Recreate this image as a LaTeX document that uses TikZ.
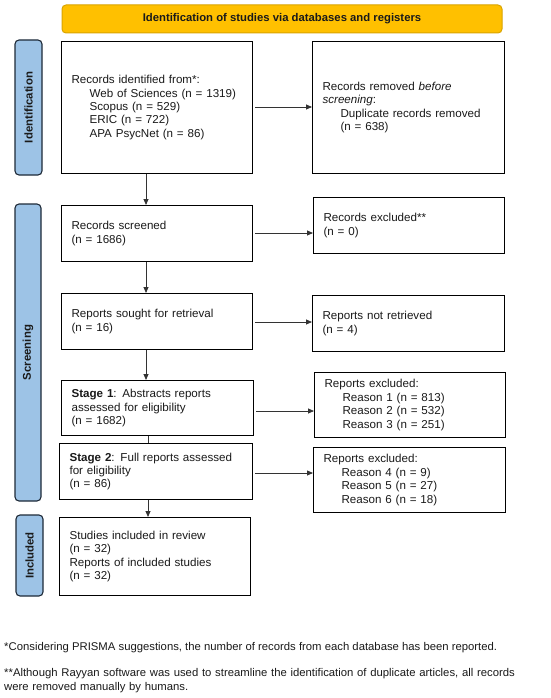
\documentclass[tikz,border=0pt]{standalone}
\usepackage{fontspec}
\setmainfont[FakeStretch=1.01]{Liberation Sans}
\usetikzlibrary{arrows.meta,positioning}
\definecolor{ybar}{HTML}{FFC000}
\definecolor{ybord}{HTML}{D9A400}
\definecolor{sideblue}{HTML}{9DC3E6}
\definecolor{sidebord}{HTML}{1E2A38}
\definecolor{txt}{HTML}{1A1A1A}
\tikzset{
  box/.style={draw=black, line width=1.1pt, fill=white, anchor=north west, inner xsep=10pt, inner ysep=0pt, align=left, text=txt,
    font=\fontsize{11.5}{13.4}\selectfont},
  side/.style={draw=sidebord, line width=1.1pt, fill=sideblue, rounded corners=4pt, rotate=90, text=txt,
    font=\bfseries\fontsize{11.3}{13}\selectfont, inner sep=0pt},
  conn/.style={draw=black!80, line width=0.8pt, -{Triangle[length=6pt,width=5pt]}},
  plainconn/.style={draw=black!80, line width=0.8pt},
  foot/.style={anchor=west, inner sep=0pt, text=txt, font=\fontsize{11.2}{14}\selectfont}
}
\newcommand{\ind}{\hspace*{18pt}}
\begin{document}
\begin{tikzpicture}[x=1pt,y=-1pt]
\useasboundingbox (0,0) rectangle (550,698);
\fill[white] (0,0) rectangle (550,698);
% title bar
\node[draw=ybord, line width=1pt, fill=ybar, rounded corners=4pt, minimum width=440pt, minimum height=28pt,
  font=\bfseries\fontsize{11.2}{13}\selectfont, text=txt, inner sep=0pt] (title) at (282,19) {Identification of studies via databases and registers};
% side labels
\node[side, minimum width=135pt, minimum height=27pt] (sid) at (28.5,107.5) {Identification};
\node[side, minimum width=297pt, minimum height=26pt] (sscr) at (28,352.5) {Screening};
\node[side, minimum width=81pt, minimum height=27pt] (sinc) at (29.5,555.5) {Included};
% left column
\node[box, minimum width=191pt, minimum height=132pt, text width=171pt] (b1) at (61,41)
 {Records identified from*:\\ \ind Web of Sciences (n = 1319)\\ \ind Scopus (n = 529)\\ \ind ERIC (n = 722)\\ \ind APA PsycNet (n = 86)};
\node[box, minimum width=191pt, minimum height=56pt, text width=171pt] (b2) at (61,205)
 {Records screened\\(n = 1686)};
\node[box, minimum width=191pt, minimum height=56pt, text width=171pt] (b3) at (61,293)
 {Reports sought for retrieval\\(n = 16)};
\node[box, minimum width=192pt, minimum height=55pt, text width=172pt] (b4) at (61,380)
 {\textbf{Stage 1}: Abstracts reports\\assessed for eligibility\\(n = 1682)};
\node[box, minimum width=193pt, minimum height=56pt, text width=173pt] (b5) at (59,443)
 {\textbf{Stage 2}: Full reports assessed\\for eligibility\\(n = 86)};
\node[box, minimum width=191pt, minimum height=78pt, text width=171pt] (b6) at (59,517)
 {Studies included in review\\(n = 32)\\Reports of included studies\\(n = 32)};
% right column
\node[box, minimum width=192pt, minimum height=132pt, text width=172pt] (r1) at (312,41)
 {Records removed \textit{before}\\\textit{screening}:\\ \ind Duplicate records removed\\ \ind (n = 638)};
\node[box, minimum width=191pt, minimum height=56pt, text width=171pt] (r2) at (313,197)
 {Records excluded**\\(n = 0)};
\node[box, minimum width=192pt, minimum height=56pt, text width=172pt] (r3) at (312,295)
 {Reports not retrieved\\(n = 4)};
\node[box, minimum width=191pt, minimum height=65pt, text width=171pt] (r4) at (314,372)
 {Reports excluded:\\ \ind Reason 1 (n = 813)\\ \ind Reason 2 (n = 532)\\ \ind Reason 3 (n = 251)};
\node[box, minimum width=192pt, minimum height=65pt, text width=172pt] (r5) at (313,447)
 {Reports excluded:\\ \ind Reason 4 (n = 9)\\ \ind Reason 5 (n = 27)\\ \ind Reason 6 (n = 18)};
% connectors down
\draw[conn] (b1.south -| 146,0) -- (b2.north -| 146,0);
\draw[conn] (b2.south -| 146,0) -- (b3.north -| 146,0);
\draw[conn] (b3.south -| 146,0) -- (b4.north -| 146,0);
\draw[plainconn] (b4.south -| 148,0) -- (b5.north -| 148,0);
\draw[conn] (b5.south -| 148,0) -- (b6.north -| 148,0);
% connectors right
\draw[conn] (b1.east |- 0,107) ++(2,0) -- (r1.west |- 0,107);
\draw[conn] (b2.east |- 0,233) ++(2,0) -- (r2.west |- 0,233);
\draw[conn] (b3.east |- 0,322) ++(2,0) -- (r3.west |- 0,322);
\draw[conn] (b4.east |- 0,411) ++(2,0) -- (r4.west |- 0,411);
\draw[conn] (b5.east |- 0,473) ++(2,0) -- (r5.west |- 0,473);
% footnotes
\node[foot] (f1) at (4,648) {*Considering PRISMA suggestions, the number of records from each database has been reported.};
\node[foot, anchor=north west, align=left, text width=546pt] (f2) at (4,668) {**Although Rayyan software was used to streamline the identification of duplicate articles, all records\\were removed manually by humans.};
\end{tikzpicture}
\end{document}
